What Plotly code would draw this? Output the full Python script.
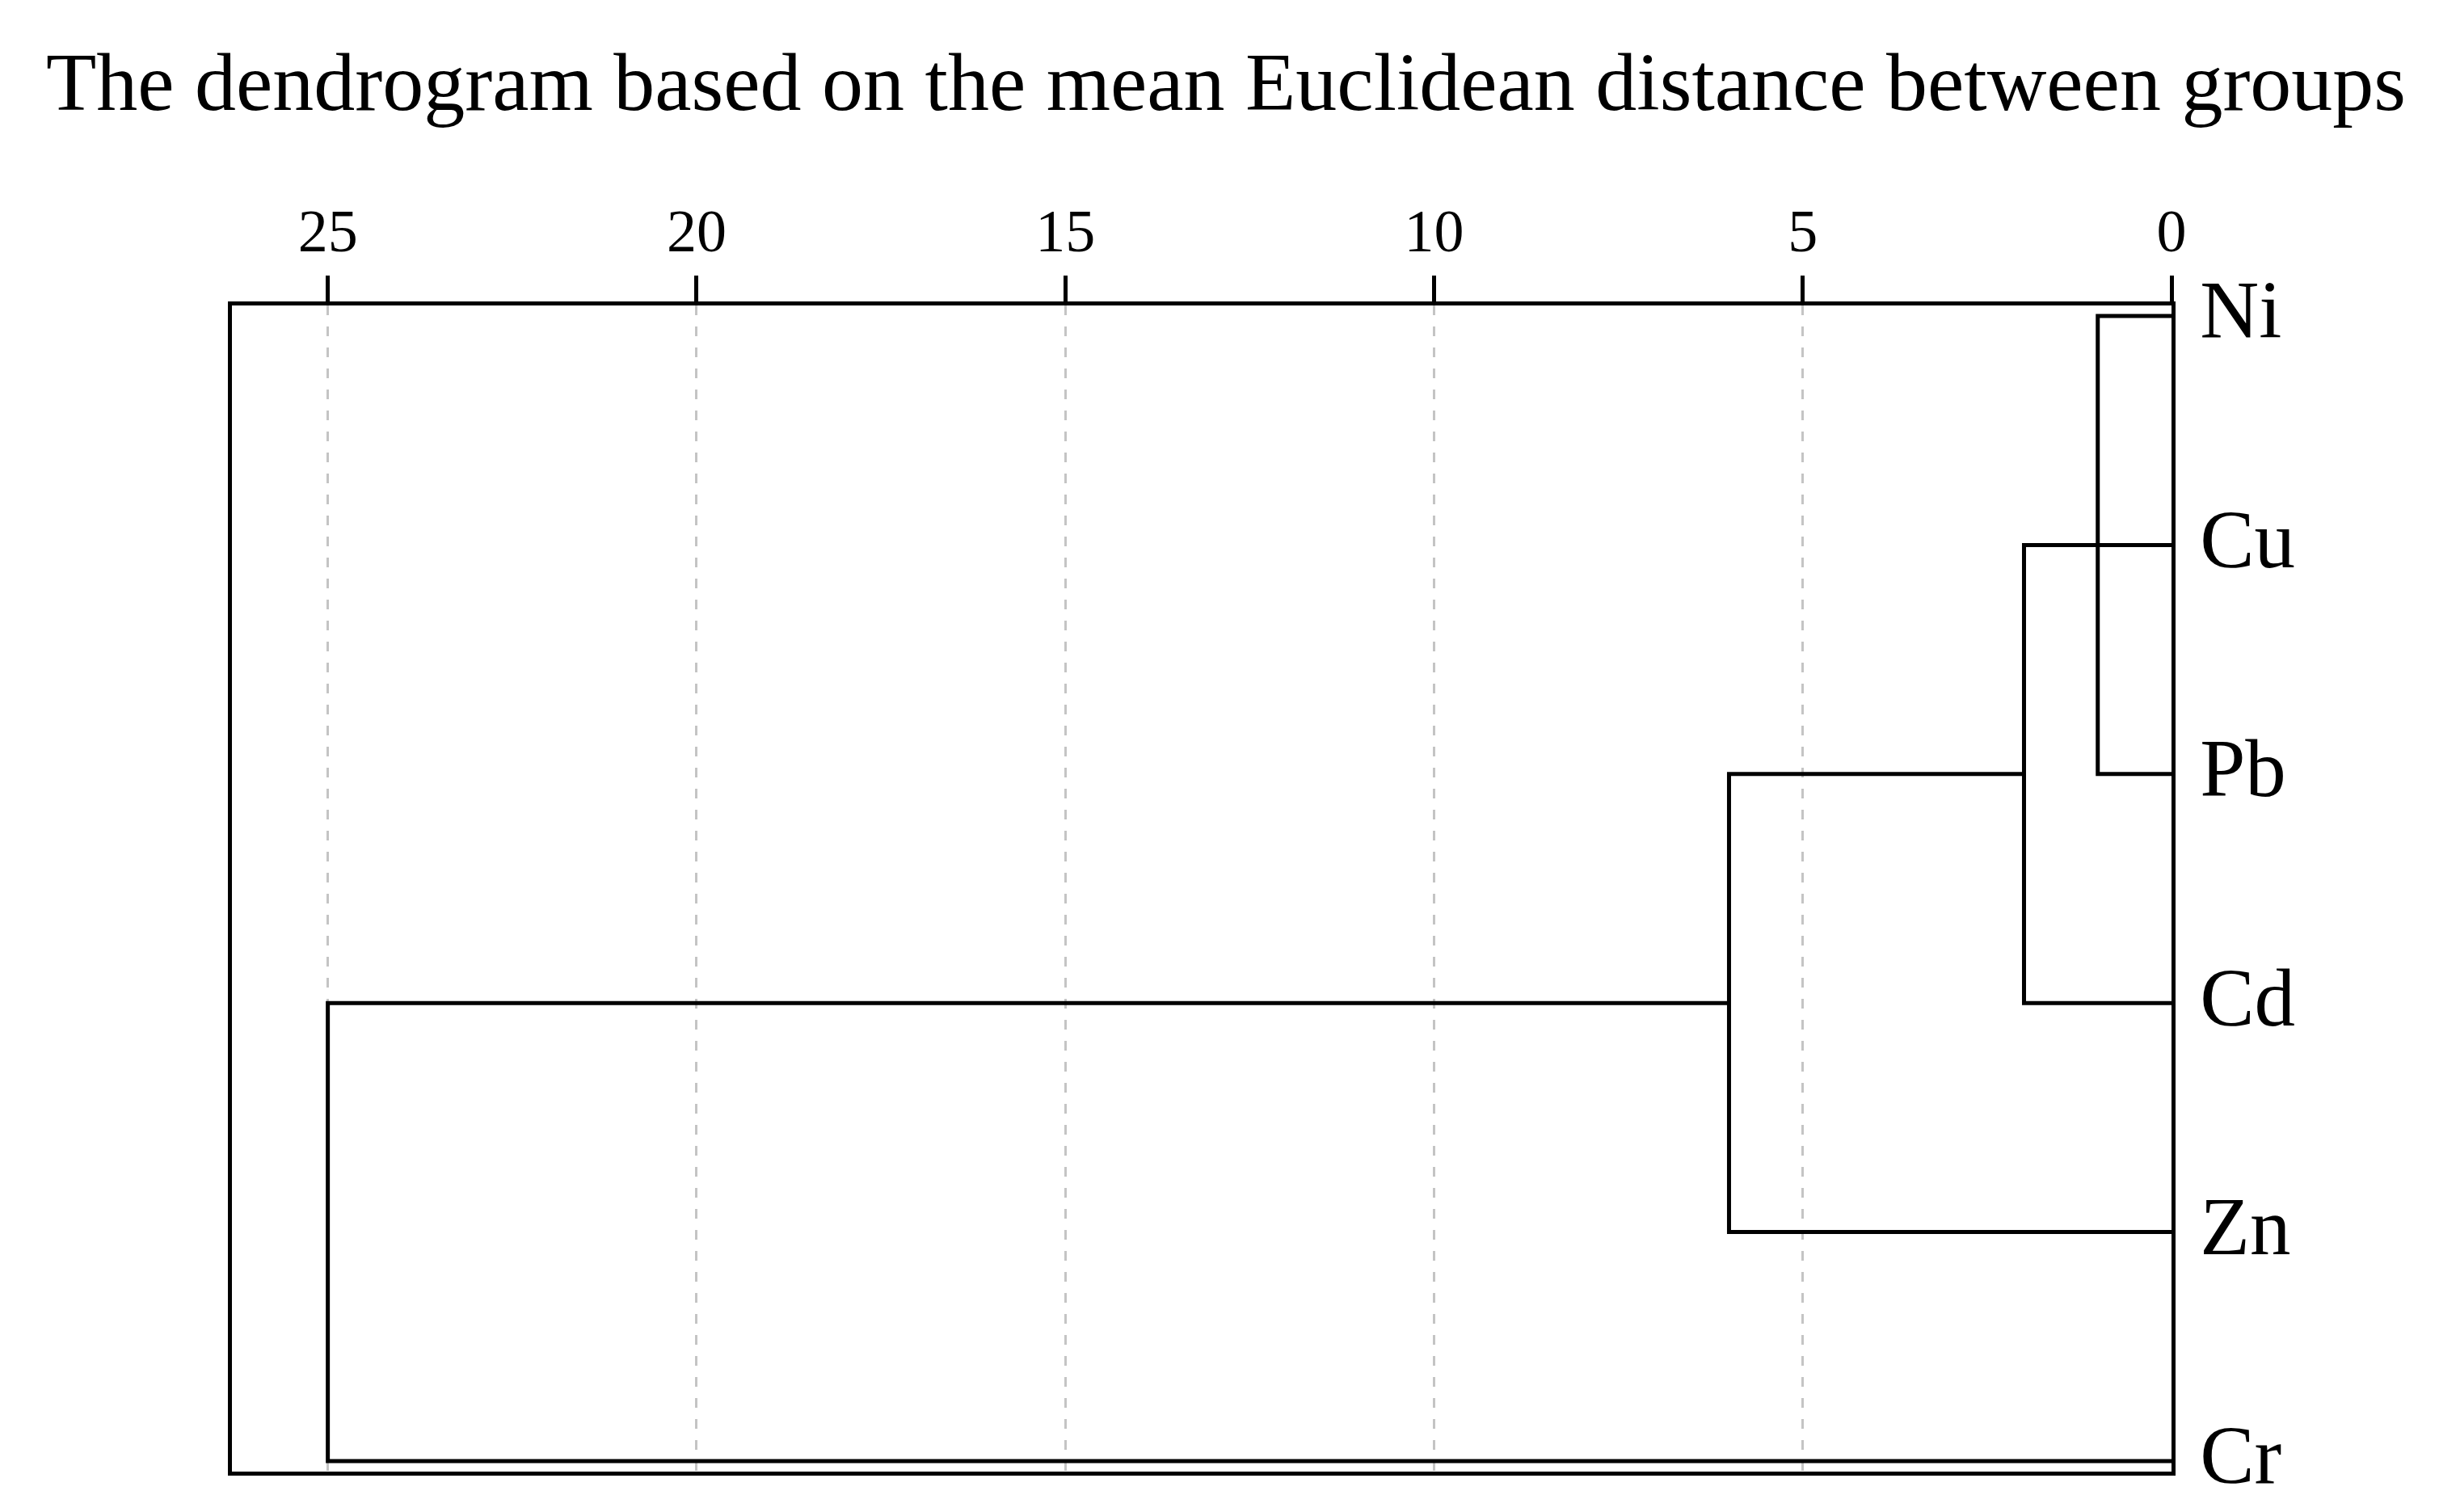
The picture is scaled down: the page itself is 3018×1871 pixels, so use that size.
import plotly.graph_objects as go

# folhas do dendrograma (de cima para baixo)
labels = ["Ni", "Cu", "Pb", "Cd", "Zn", "Cr"]

# cada fusão: posição dos dois ramos, altura de partida de cada ramo e distância da fusão
merge_dist = [1.0, 2.0, 6.0, 25.0]
merge_top_pos = [0, 1, 2, 3]
merge_bottom_pos = [2, 3, 4, 5]
merge_top_from = [0.0, 0.0, 2.0, 6.0]
merge_bottom_from = [0.0, 0.0, 0.0, 0.0]

tick_vals = [0, 5, 10, 15, 20, 25]
x_max = 26.3

title = "The dendrogram based on the mean Euclidean distance between groups"
serif = "Liberation Serif, Times New Roman, serif"

# monta os segmentos em forma de colchete
xs, ys = [], []
for d, p1, p2, h1, h2 in zip(merge_dist, merge_top_pos, merge_bottom_pos,
                             merge_top_from, merge_bottom_from):
    xs += [h1, d, d, h2, None]
    ys += [p1, p1, p2, p2, None]

fig = go.Figure()
fig.add_trace(go.Scatter(x=xs, y=ys, mode="lines",
                         line=dict(color="black", width=5),
                         hoverinfo="skip", showlegend=False))

fig.update_layout(
    width=3018, height=1871,
    paper_bgcolor="white", plot_bgcolor="white",
    margin=dict(l=279, r=339, t=370, b=58),
    title=dict(text=title, x=0.5, xanchor="center",
               yref="container", y=1 - 92 / 1871, yanchor="middle",
               font=dict(family=serif, size=102, color="black")),
    font=dict(family=serif, color="black"),
)

fig.update_xaxes(
    side="top", range=[x_max, 0], automargin=False,
    tickvals=tick_vals, ticktext=[str(v) for v in tick_vals],
    ticks="outside", ticklen=32, tickwidth=5, tickcolor="black",
    tickfont=dict(family=serif, size=74, color="black"),
    showline=True, linewidth=5, linecolor="black", mirror=True,
    showgrid=True, gridcolor="#c4c4c4", gridwidth=3, griddash="12px,14px",
    zeroline=False,
)

fig.update_yaxes(
    side="right", range=[5.046, -0.046], automargin=False,
    tickvals=list(range(len(labels))), ticktext=labels,
    ticks="", ticklabelstandoff=10, ticklabelshift=8,
    tickfont=dict(family=serif, size=101, color="black"),
    showline=True, linewidth=5, linecolor="black", mirror=True,
    showgrid=False, zeroline=False,
)

fig.write_html("out.html")
